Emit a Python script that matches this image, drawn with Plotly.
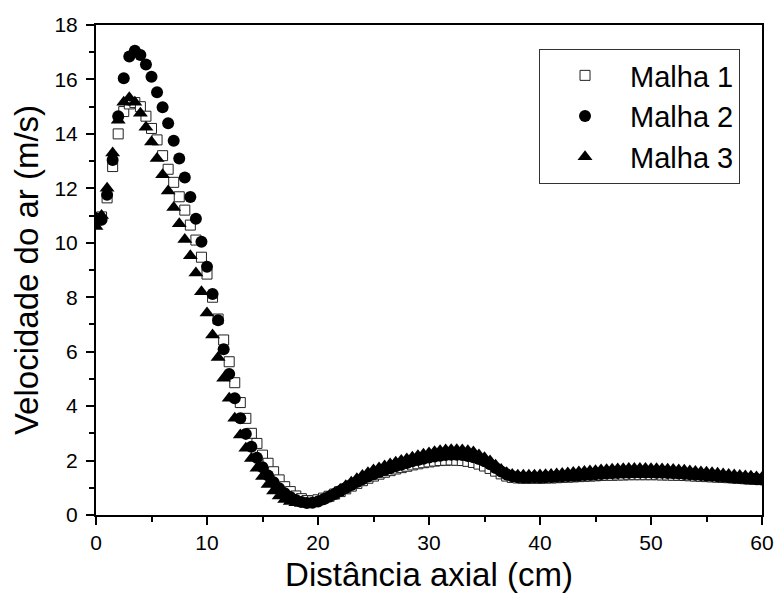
import numpy as np
import plotly.graph_objects as go

# Axial positions (cm), sampled every 0.5 cm from 0 to 60
distancia = np.round(np.arange(0, 60.01, 0.5), 1)

# Air velocity (m/s) for each mesh
malha_1 = [
    10.8, 10.95, 11.65, 12.8, 14.0, 14.82, 15.1, 15.15, 15.0, 14.65,
    14.2, 13.78, 13.2, 12.7, 12.22, 11.69, 11.2, 10.65, 10.1, 9.47,
    8.85, 8.0, 7.2, 6.43, 5.63, 4.86, 4.13, 3.55, 3.0, 2.63,
    2.2, 1.9, 1.59, 1.29, 1.04, 0.86, 0.7, 0.6, 0.53, 0.52,
    0.56, 0.62, 0.69, 0.77, 0.86, 0.96, 1.06, 1.16, 1.26, 1.35,
    1.43, 1.5, 1.57, 1.63, 1.69, 1.74, 1.79, 1.84, 1.88, 1.92,
    1.95, 1.98, 2.0, 2.01, 2.02, 2.01, 2.0, 1.97, 1.93, 1.87,
    1.8, 1.71, 1.61, 1.51, 1.43, 1.38, 1.36, 1.35, 1.35, 1.35,
    1.35, 1.36, 1.36, 1.37, 1.38, 1.39, 1.4, 1.41, 1.42, 1.43,
    1.44, 1.45, 1.46, 1.46, 1.47, 1.47, 1.48, 1.48, 1.48, 1.48,
    1.48, 1.48, 1.47, 1.47, 1.46, 1.46, 1.45, 1.44, 1.43, 1.42,
    1.41, 1.4, 1.39, 1.38, 1.37, 1.36, 1.35, 1.33, 1.32, 1.31,
    1.3,
]

malha_2 = [
    10.9, 10.85, 11.76, 13.04, 14.65, 16.04, 16.84, 17.05, 16.9, 16.55,
    16.1, 15.53, 14.98, 14.39, 13.75, 13.1, 12.4, 11.68, 10.88, 10.04,
    9.12, 8.12, 7.15, 6.09, 5.18, 4.29, 3.55, 2.98, 2.51, 2.1,
    1.75, 1.45, 1.2, 0.98, 0.8, 0.66, 0.55, 0.48, 0.44, 0.45,
    0.5, 0.58, 0.67, 0.77, 0.88, 0.99, 1.1, 1.21, 1.31, 1.41,
    1.5, 1.58, 1.65, 1.72, 1.79, 1.85, 1.91, 1.97, 2.02, 2.07,
    2.11, 2.15, 2.18, 2.2, 2.21, 2.21, 2.2, 2.17, 2.12, 2.06,
    1.97, 1.86, 1.73, 1.6, 1.49, 1.42, 1.39, 1.38, 1.38, 1.39,
    1.38, 1.39, 1.4, 1.41, 1.42, 1.43, 1.44, 1.45, 1.47, 1.48,
    1.5, 1.51, 1.52, 1.53, 1.54, 1.55, 1.55, 1.56, 1.56, 1.56,
    1.56, 1.55, 1.55, 1.54, 1.53, 1.52, 1.51, 1.5, 1.48, 1.47,
    1.45, 1.44, 1.42, 1.41, 1.39, 1.37, 1.36, 1.34, 1.33, 1.31,
    1.3,
]

malha_3 = [
    10.6, 11.0, 12.0, 13.3, 14.5, 15.16, 15.33, 15.16, 14.76, 14.24,
    13.7, 13.1, 12.5, 11.9, 11.3, 10.7, 10.12, 9.52, 8.89, 8.2,
    7.42, 6.61, 5.79, 5.02, 4.29, 3.55, 2.94, 2.45, 2.08, 1.72,
    1.41, 1.12, 0.88, 0.7, 0.57, 0.5, 0.45, 0.42, 0.42, 0.45,
    0.5, 0.6, 0.7, 0.82, 0.94, 1.07, 1.2, 1.33, 1.45, 1.55,
    1.65, 1.73, 1.8, 1.87, 1.94, 2.0, 2.06, 2.12, 2.18, 2.23,
    2.28, 2.32, 2.36, 2.39, 2.4, 2.4, 2.39, 2.36, 2.31, 2.2,
    2.1, 1.98, 1.83, 1.67, 1.55, 1.49, 1.46, 1.46, 1.46, 1.46,
    1.47, 1.48, 1.49, 1.51, 1.52, 1.54, 1.56, 1.58, 1.6, 1.62,
    1.63, 1.65, 1.66, 1.68, 1.69, 1.7, 1.71, 1.71, 1.71, 1.71,
    1.7, 1.7, 1.69, 1.68, 1.67, 1.65, 1.64, 1.62, 1.6, 1.58,
    1.57, 1.55, 1.53, 1.51, 1.49, 1.47, 1.45, 1.43, 1.42, 1.4,
    1.38,
]

nomes = ["Malha 1", "Malha 2", "Malha 3"]

FONT = "Arial, Liberation Sans, sans-serif"

fig = go.Figure()
fig.add_trace(go.Scatter(
    x=distancia, y=malha_1, mode="markers", name=nomes[0],
    marker=dict(symbol="square", size=10, color="white",
                line=dict(color="#222222", width=1)),
))
fig.add_trace(go.Scatter(
    x=distancia, y=malha_2, mode="markers", name=nomes[1],
    marker=dict(symbol="circle", size=12, color="black",
                line=dict(width=0)),
))
fig.add_trace(go.Scatter(
    x=distancia, y=malha_3, mode="markers", name=nomes[2],
    marker=dict(symbol="triangle-up", size=13, color="black",
                line=dict(width=0)),
))

axis_common = dict(
    showline=True, linecolor="black", linewidth=2, mirror=True,
    ticks="outside", ticklen=8, tickwidth=1.5, tickcolor="black",
    showgrid=False, zeroline=False, automargin=False,
    tickfont=dict(family=FONT, size=21, color="black"),
)

fig.update_xaxes(
    range=[0, 60], dtick=10, tick0=0,
    minor=dict(dtick=5, ticks="outside", ticklen=5, tickcolor="black", tickwidth=1.5),
    title=dict(text="Distância axial (cm)", font=dict(family=FONT, size=33, color="black"),
               standoff=10),
    **axis_common,
)
fig.update_yaxes(
    range=[0, 18], dtick=2, tick0=0, ticklabelstandoff=4,
    minor=dict(dtick=1, ticks="outside", ticklen=5, tickcolor="black", tickwidth=1.5),
    title=dict(text="Velocidade do ar (m/s)", font=dict(family=FONT, size=33, color="black"),
               standoff=6),
    **axis_common,
)

fig.update_layout(
    width=777, height=603,
    margin=dict(l=96, r=15, t=25, b=88),
    paper_bgcolor="white", plot_bgcolor="white",
    font=dict(family=FONT, color="black"),
    legend=dict(
        x=0.967, y=0.951, xanchor="right", yanchor="top",
        bgcolor="white", bordercolor="#333333", borderwidth=1,
        font=dict(family=FONT, size=29, color="black"),
        itemwidth=80, tracegroupgap=0,
    ),
    showlegend=True,
)

fig.write_html("out.html")
